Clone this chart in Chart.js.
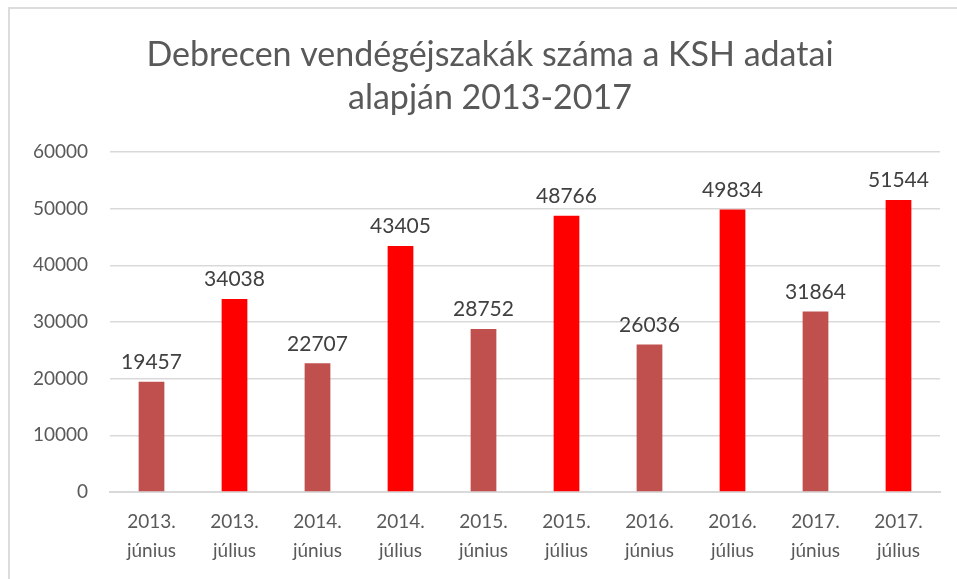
<!DOCTYPE html>
<html>
<head>
<meta charset="utf-8">
<script src="https://cdn.jsdelivr.net/npm/chart.js@4"></script>
<style>
	html, body { margin: 0; padding: 0; background: #fff; overflow: hidden; }
	#frame {
		position: absolute; left: 8px; top: 7px; width: 1000px; height: 620px;
		border-left: 2px solid #dcdcdc; border-top: 2px solid #dcdcdc;
	}
	#wrap { position: absolute; left: 0; top: 0; width: 957px; height: 579px; }
</style>
</head>
<body>
<div id="frame"></div>
<div id="wrap"><canvas id="chart"></canvas></div>
<script>
// Data
const years = ['2013.', '2013.', '2014.', '2014.', '2015.', '2015.', '2016.', '2016.', '2017.', '2017.'];
const months = ['június', 'július', 'június', 'július', 'június', 'július', 'június', 'július', 'június', 'július'];
const nights = [19457, 34038, 22707, 43405, 28752, 48766, 26036, 49834, 31864, 51544];
const titleLines = ['Debrecen vendégéjszakák száma a KSH adatai', 'alapján 2013-2017'];

const juneColor = '#c0504d';
const julyColor = '#ff0000';
const fontFamily = 'Lato, "Open Sans", sans-serif';

// Value labels above each bar
const valueLabels = {
	id: 'valueLabels',
	afterDatasetsDraw(chart) {
		const ctx = chart.ctx;
		const meta = chart.getDatasetMeta(0);
		ctx.save();
		ctx.font = '21px ' + fontFamily;
		ctx.fillStyle = '#404040';
		ctx.textAlign = 'center';
		ctx.textBaseline = 'bottom';
		meta.data.forEach((bar, i) => {
			ctx.fillText(String(nights[i]), bar.x, bar.y - 9);
		});
		ctx.restore();
	}
};

// Title, centred a bit right of the canvas middle like the original
const chartTitle = {
	id: 'chartTitle',
	afterDraw(chart) {
		const ctx = chart.ctx;
		ctx.save();
		ctx.font = '34px ' + fontFamily;
		ctx.fillStyle = '#595959';
		ctx.textAlign = 'center';
		ctx.textBaseline = 'middle';
		titleLines.forEach((line, i) => {
			ctx.fillText(line, 490, 55 + i * 43);
		});
		ctx.restore();
	}
};

const labels = years.map((y, i) => [y, months[i]]);

new Chart(document.getElementById('chart'), {
	type: 'bar',
	data: {
		labels: labels,
		datasets: [{
			data: nights,
			backgroundColor: months.map(m => m === 'június' ? juneColor : julyColor),
			barPercentage: 0.62,
			categoryPercentage: 0.5
		}]
	},
	options: {
		responsive: true,
		maintainAspectRatio: false,
		animation: false,
		layout: { padding: { left: 0, right: 17, top: 152, bottom: 0 } },
		plugins: {
			legend: { display: false },
			tooltip: { enabled: false },
			title: { display: false }
		},
		scales: {
			x: {
				grid: { display: false, drawTicks: false },
				border: { display: true, color: '#d9d9d9', width: 2 },
				ticks: {
					color: '#595959',
					font: { family: fontFamily, size: 19, lineHeight: 1.5 },
					padding: 16,
					maxRotation: 0,
					autoSkip: false
				},
				afterFit(scale) { scale.height = 87; }
			},
			y: {
				min: 0,
				max: 60000,
				grid: { color: '#d9d9d9', lineWidth: 1.5, drawTicks: false },
				border: { display: false },
				ticks: {
					stepSize: 10000,
					color: '#595959',
					font: { family: fontFamily, size: 19 },
					padding: 22,
					callback: v => String(v)
				},
				afterFit(scale) { scale.width = 110; }
			}
		}
	},
	plugins: [valueLabels, chartTitle]
});
</script>
</body>
</html>
